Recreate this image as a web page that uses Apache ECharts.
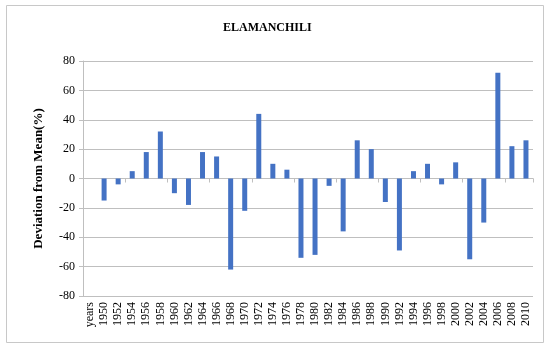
<!DOCTYPE html>
<html>
<head>
<meta charset="utf-8">
<script src="https://cdn.jsdelivr.net/npm/echarts@6/dist/echarts.min.js"></script>
<style>html,body{margin:0;padding:0;background:#fff;}#c{width:550px;height:351px;}</style>
</head>
<body>
<div id="c"></div>
<script>
const categories = ['years','1950','1952','1954','1956','1958','1960','1962','1964','1966','1968','1970','1972','1974','1976','1978','1980','1982','1984','1986','1988','1990','1992','1994','1996','1998','2000','2002','2004','2006','2008','2010'];
const deviation = [null,-15,-4,5,18,32,-10,-18,18,15,-62,-22,44,10,6,-54,-52,-5,-36,26,20,-16,-49,5,10,-4,11,-55,-30,72,22,26];
const yTicks = {min:-80, max:80, interval:20};

const serif = '"Liberation Serif","DejaVu Serif",serif';
const chart = echarts.init(document.getElementById('c'), null, {renderer:'canvas'});
chart.setOption({
  animation:false,
  backgroundColor:'#fff',
  title:{text:'ELAMANCHILI', left:218, top:17,
    textStyle:{fontFamily:serif, fontSize:12, fontWeight:'bold', color:'#000'}},
  graphic:[{type:'rect', shape:{x:6.5,y:5.5,width:537,height:337},
    style:{fill:'none', stroke:'#c8c8c8', lineWidth:1}, silent:true}],
  grid:{left:83, right:17, top:61, bottom:55},
  xAxis:[
    {type:'category', data:categories, position:'bottom',
      axisLine:{show:false, onZero:false}, axisTick:{show:false},
      axisLabel:{rotate:90, interval:0, margin:6, fontFamily:serif, fontSize:12, color:'#000'}},
    {type:'category', data:categories, position:'bottom',
      axisLine:{show:true, onZero:true, onZeroAxisIndex:0, lineStyle:{color:'#bfbfbf', width:1}},
      axisTick:{show:true, inside:false, length:4, lineStyle:{color:'#bfbfbf'}},
      axisLabel:{show:false}}
  ],
  yAxis:{type:'value', min:yTicks.min, max:yTicks.max, interval:yTicks.interval,
    name:'Deviation from Mean(%)', nameLocation:'middle', nameGap:38,
    nameTextStyle:{fontFamily:serif, fontSize:13, fontWeight:'bold', color:'#000'},
    axisLine:{show:true, lineStyle:{color:'#bfbfbf'}},
    axisTick:{show:true, length:4, lineStyle:{color:'#bfbfbf'}},
    axisLabel:{fontFamily:serif, fontSize:12, color:'#000', margin:8},
    splitLine:{show:true, lineStyle:{color:'#bfbfbf', width:1}}},
  series:[{type:'bar', xAxisIndex:0, data:deviation, barWidth:5,
    itemStyle:{color:'#4472C4'}}]
});
</script>
</body>
</html>
